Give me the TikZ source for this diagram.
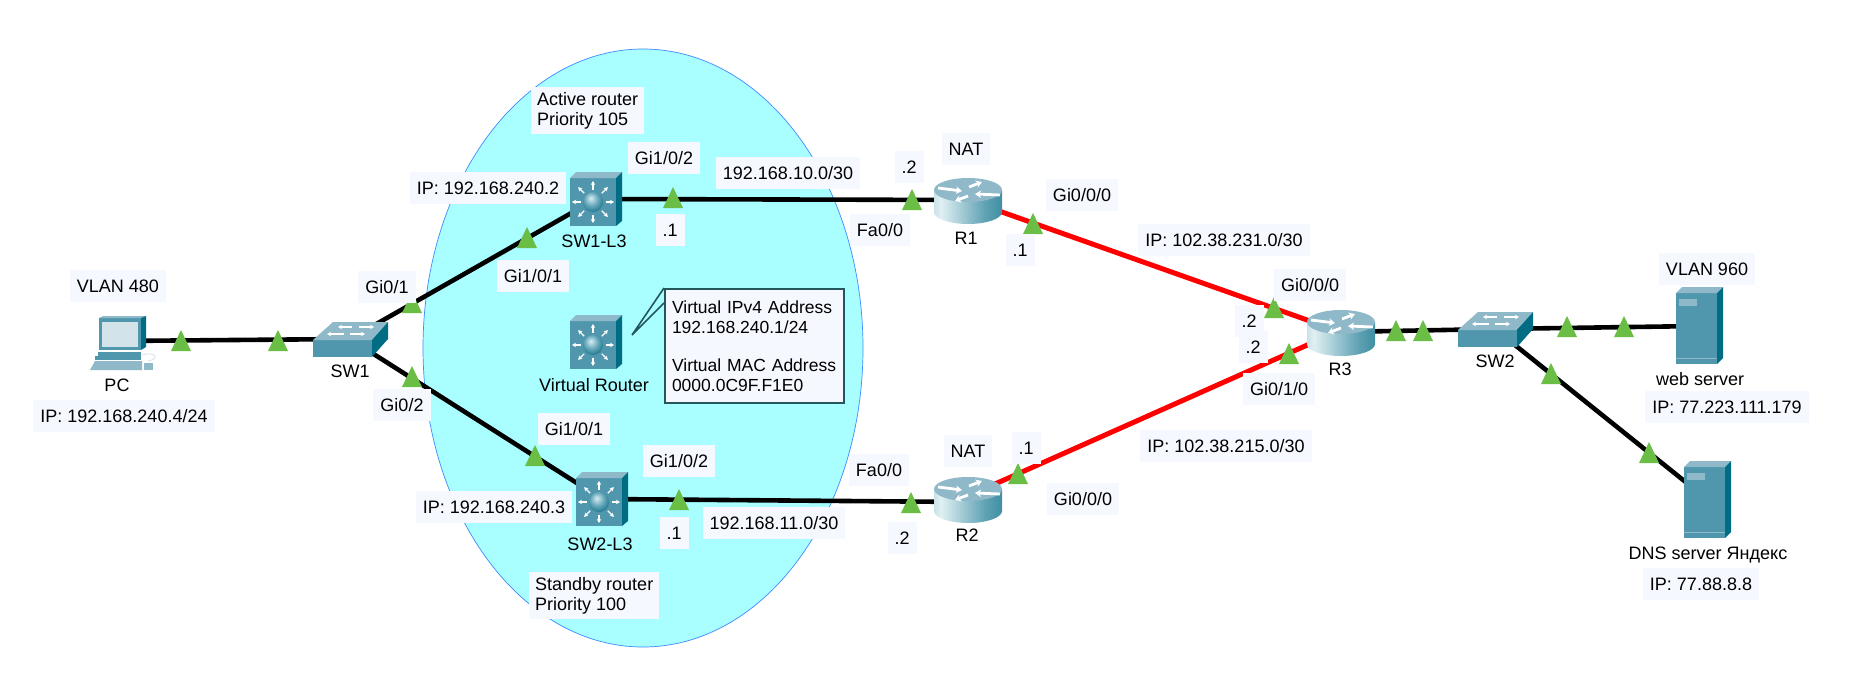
\documentclass[tikz,border=0pt]{standalone}
\usepackage{fontspec}
\setmainfont{Liberation Sans}
\usetikzlibrary{arrows.meta}
\definecolor{portgreen}{HTML}{6ABD45}
\definecolor{boxbg}{HTML}{F6F8FF}
\definecolor{hsrpfill}{HTML}{A9FEFF}
\definecolor{hsrpedge}{HTML}{3D8BFF}
\definecolor{devface}{HTML}{5097AE}
\definecolor{devtop}{HTML}{8FB8C9}
\definecolor{devside}{HTML}{006D85}
\definecolor{devscreen}{HTML}{D3E3EA}
\definecolor{noteedge}{HTML}{24565C}
\definecolor{wanred}{HTML}{FF0000}
\pgfdeclarehorizontalshading{routerbody}{100bp}{
  rgb(0bp)=(0.36,0.62,0.69);
  rgb(30bp)=(0.88,0.94,0.95);
  rgb(62bp)=(0.38,0.64,0.71);
  rgb(100bp)=(0,0.40,0.50)}
\pgfdeclareradialshading{portball}{\pgfpoint{-6bp}{10bp}}{
  rgb(0bp)=(0.85,0.93,0.95);
  rgb(16bp)=(0.42,0.67,0.74);
  rgb(34bp)=(0.05,0.42,0.52);
  rgb(60bp)=(0,0.33,0.42)}
\tikzset{
  x=1pt,y=-1pt,
  txt/.style={font=\fontsize{18}{20}\selectfont},
  devname/.style={txt,inner sep=0pt,text height=13pt,text depth=0pt},
  tag/.style={txt,fill=boxbg,inner xsep=7pt,inner ysep=0pt,minimum height=32pt,text height=13pt,text depth=0pt},
  tagblock/.style={txt,fill=boxbg,inner xsep=6pt,inner ysep=5pt,align=left,anchor=north west},
  device/.style={inner sep=0pt,minimum size=2pt},
  lan/.style={line width=4.6pt,black},
  wan/.style={line width=5pt,wanred},
  tinyarrow/.style={white,line width=1.3pt,-{Stealth[length=4pt,width=4.5pt]}},
  fatarrow/.style={white,line width=2.8pt,-{Stealth[length=6pt,width=7.5pt]}},
  switchicon/.pic={
    \fill[devface] (-37,1) rectangle (22,18);
    \fill[devtop] (-37,1) -- (22,1) -- (38,-17) -- (-17,-17) -- cycle;
    \fill[devside] (22,1) -- (38,-17) -- (38,0) -- (22,18) -- cycle;
    \draw[tinyarrow] (2,-12) -- (-12,-12);
    \draw[tinyarrow] (9,-12) -- (24,-12);
    \draw[tinyarrow] (-6,-5) -- (-23,-5);
    \draw[tinyarrow] (0,-5) -- (15,-5);
  },
  mlsicon/.pic={
    \fill[devface] (-26,-21) rectangle (20,27);
    \fill[devtop] (-26,-21) -- (20,-21) -- (26,-27) -- (-20,-27) -- cycle;
    \fill[devside] (20,-21) -- (26,-27) -- (26,22) -- (20,27) -- cycle;
    \begin{scope}[shift={(-3,3)}]
      \foreach \a in {0,45,...,315}
        \draw[tinyarrow] (\a:12.5) -- (\a:21);
      \path[shading=portball] (0,0) circle (10);
    \end{scope}
  },
  routericon/.pic={
    \path[shading=routerbody] (-34,-10) -- (-34,12) arc[start angle=180,end angle=360,x radius=34,y radius=-12] -- (34,-10) -- cycle;
    \fill[devtop] (0,-10) ellipse[x radius=34,y radius=12];
    \draw[fatarrow] (-30,-12) -- (-6,-9);
    \draw[fatarrow] (1,-13) -- (14,-18);
    \draw[fatarrow] (32,-5) -- (7,-6);
    \draw[fatarrow] (0,-4) -- (-13,1);
  },
  servericon/.pic={
    \fill[devface] (-24,-33) rectangle (17,38);
    \fill[devtop] (-24,-33) -- (17,-33) -- (23,-39) -- (-18,-39) -- cycle;
    \fill[devside] (17,-33) -- (23,-39) -- (23,32) -- (17,38) -- cycle;
    \fill[devtop] (-21,-27) rectangle (-3,-20);
    \draw[devtop,line width=0.8pt] (-24,32) -- (17,32);
  },
  pcicon/.pic={
    \fill[devface] (-19,-23) rectangle (23,9);
    \fill[devtop] (-19,-23) -- (-15,-25) -- (28,-25) -- (23,-23) -- cycle;
    \fill[devside] (23,-23) -- (28,-25) -- (28,6) -- (23,9) -- cycle;
    \fill[devscreen] (-16,-19) rectangle (20,6);
    \fill[devface] (-20,11) rectangle (23,15);
    \fill[devface] (-23,15) rectangle (23,19);
    \fill[devtop] (-28,29) -- (-23,20) -- (24,20) -- (24,29) -- cycle;
    \fill[devtop] (26,22) rectangle (35,29);
    \draw[devscreen,line width=0.8pt] (24,14) .. controls (38,10) and (42,18) .. (30,20);
  },
}
\begin{document}
\begin{tikzpicture}
  \useasboundingbox (0,0) rectangle (1857,685);
  \fill[white] (0,0) rectangle (1857,685);

  % HSRP domain
  \draw[hsrpedge,fill=hsrpfill,line width=0.7pt] (643,348) ellipse[x radius=220,y radius=299];

  % device anchor points
  \node[device] (PC) at (118,341) {};
  \node[device] (SW1) at (350,339) {};
  \node[device] (SW1L3) at (596,199) {};
  \node[device] (VR) at (596,342) {};
  \node[device] (SW2L3) at (602,499) {};
  \node[device] (R1) at (968,200) {};
  \node[device] (R2) at (968,499) {};
  \node[device] (R3) at (1341,332) {};
  \node[device] (SW2) at (1495,329) {};
  \node[device] (WEB) at (1700,326) {};
  \node[device] (DNS) at (1708,500) {};

  % links
  \draw[lan] (PC) -- (SW1);
  \draw[lan] (SW1) -- (SW1L3);
  \draw[lan] (SW1) -- (SW2L3);
  \draw[lan] (SW1L3) -- (R1);
  \draw[lan] (SW2L3) -- ([yshift=-3pt]R2.center);
  \draw[wan] (R1) -- (R3);
  \draw[wan] ([yshift=3pt]R2.center) -- ([yshift=2pt]R3.center);
  \draw[lan] (R3) -- (SW2);
  \draw[lan] (SW2) -- (WEB);
  \draw[lan] (SW2) -- (DNS);

  % device icons
  \pic at (PC) {pcicon};
  \pic at (SW1) {switchicon};
  \pic at (SW2) {switchicon};
  \pic at (SW1L3) {mlsicon};
  \pic at (VR) {mlsicon};
  \pic at (SW2L3) {mlsicon};
  \pic at (R1) {routericon};
  \pic at (R2) {routericon};
  \pic at (R3) {routericon};
  \pic at (WEB) {servericon};
  \pic at (DNS) {servericon};

  % link-state markers
  \foreach \x/\y in {181/351,278/351,412/313,412/387,527/248,673/208,912/210,1033/234,
                     1274/318,1289/364,535/466,679/510,911/513,1018/484,1396/341,1423/341,
                     1567/337,1624/337,1551/384,1649/463}
    \fill[portgreen] (\x-10,\y) -- (\x+10,\y) -- (\x,\y-21) -- cycle;

  % device names
  \node[devname] (nPC) at (117,385) {PC};
  \node[devname] (nSW1) at (350,371) {SW1};
  \node[devname] (nSW1L3) at (594,241) {SW1-L3};
  \node[devname] (nVR) at (594,385) {Virtual Router};
  \node[devname] (nSW2L3) at (600,544) {SW2-L3};
  \node[devname] (nR1) at (966,238) {R1};
  \node[devname] (nR2) at (967,535) {R2};
  \node[devname] (nR3) at (1340,369) {R3};
  \node[devname] (nSW2) at (1495,361) {SW2};
  \node[devname] (nWEB) at (1700,379) {web server};
  \node[devname] (nDNS) at (1708,553) {DNS server Яндекс};

  % addressing and interface tags
  \node[tag] (t01) at (118,286) {VLAN 480};
  \node[tag] (t02) at (124,416) {IP: 192.168.240.4/24};
  \node[tag] (t03) at (387,287) {Gi0/1};
  \node[tag] (t04) at (402,405) {Gi0/2};
  \node[tag] (t05) at (664,158) {Gi1/0/2};
  \node[tag] (t06) at (488,188) {IP: 192.168.240.2};
  \node[tag] (t07) at (788,173) {192.168.10.0/30};
  \node[tag] (t08) at (670,230) {.1};
  \node[tag] (t09) at (880,230) {Fa0/0};
  \node[tag] (t10) at (909,167) {.2};
  \node[tag] (t11) at (533,276) {Gi1/0/1};
  \node[tag] (t12) at (574,429) {Gi1/0/1};
  \node[tag] (t13) at (679,461) {Gi1/0/2};
  \node[tag] (t14) at (494,507) {IP: 192.168.240.3};
  \node[tag] (t15) at (674,533) {.1};
  \node[tag] (t16) at (774,523) {192.168.11.0/30};
  \node[tag] (t17) at (879,470) {Fa0/0};
  \node[tag] (t18) at (902,538) {.2};
  \node[tag] (t19) at (966,149) {NAT};
  \node[tag] (t20) at (1082,195) {Gi0/0/0};
  \node[tag] (t21) at (1020,250) {.1};
  \node[tag] (t22) at (1224,240) {IP: 102.38.231.0/30};
  \node[tag] (t23) at (1310,285) {Gi0/0/0};
  \node[tag] (t24) at (1249,321) {.2};
  \node[tag] (t25) at (1253,347) {.2};
  \node[tag] (t26) at (1279,389) {Gi0/1/0};
  \node[tag] (t27) at (1226,446) {IP: 102.38.215.0/30};
  \node[tag] (t28) at (968,451) {NAT};
  \node[tag] (t29) at (1026,448) {.1};
  \node[tag] (t30) at (1083,499) {Gi0/0/0};
  \node[tag] (t31) at (1707,269) {VLAN 960};
  \node[tag] (t32) at (1727,407) {IP: 77.223.111.179};
  \node[tag] (t33) at (1701,584) {IP: 77.88.8.8};

  % role notes
  \node[tagblock] (active) at (531,87) {Active router\\Priority 105};
  \node[tagblock] (standby) at (529,572) {Standby router\\Priority 100};

  % virtual router note with its pointer
  \coordinate (vrtip) at (632,335);
  \node[font=\fontsize{17.5}{19.5}\selectfont,fill=boxbg,draw=noteedge,line width=2pt,inner xsep=7pt,inner ysep=6pt,align=left,anchor=north west,
        text width=165pt,minimum height=114pt] (note) at (664,288)
    {Virtual IPv4 Address\\192.168.240.1/24\\[19pt]Virtual MAC Address\\0000.0C9F.F1E0};
  \draw[noteedge,line width=1.6pt] (note.north west) -- (vrtip) -- ([yshift=-15pt]note.north west);
\end{tikzpicture}
\end{document}
